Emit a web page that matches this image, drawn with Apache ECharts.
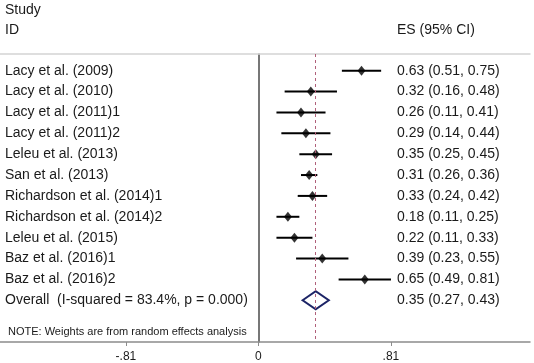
<!DOCTYPE html>
<html>
<head>
<meta charset="utf-8">
<script src="https://cdn.jsdelivr.net/npm/echarts@6/dist/echarts.min.js"></script>
<style>
  html, body { margin: 0; padding: 0; background: #fff; }
  #chart { width: 534px; height: 363px; }
</style>
</head>
<body>
<div id="chart"></div>
<script>
// forest plot data
const studies = [
    'Lacy et al. (2009)', 'Lacy et al. (2010)', 'Lacy et al. (2011)1', 'Lacy et al. (2011)2',
    'Leleu et al. (2013)', 'San et al. (2013)', 'Richardson et al. (2014)1',
    'Richardson et al. (2014)2', 'Leleu et al. (2015)', 'Baz et al. (2016)1', 'Baz et al. (2016)2'
];
const es = [0.63, 0.32, 0.26, 0.29, 0.35, 0.31, 0.33, 0.18, 0.22, 0.39, 0.65];
const lo = [0.51, 0.16, 0.11, 0.14, 0.25, 0.26, 0.24, 0.11, 0.11, 0.23, 0.49];
const hi = [0.75, 0.48, 0.41, 0.44, 0.45, 0.36, 0.42, 0.25, 0.33, 0.55, 0.81];
const overallLabel = 'Overall  (I-squared = 83.4%, p = 0.000)';
const overall = [0.35, 0.27, 0.43]; // es, lo, hi
const xTicks = [-0.81, 0, 0.81];
const xTickLabels = ['-.81', '0', '.81'];

const FONT = '"Liberation Sans", Arial, sans-serif';
const ES_COL_X = 397; // pixel x of the ES column text

const fmt = v => v.toFixed(2);
const rows = studies.map((s, i) => [lo[i], hi[i], es[i], i]);
const overallRow = studies.length;

const chart = echarts.init(document.getElementById('chart'));

const option = {
    animation: false,
    grid: { left: 0, right: 4, top: 54, bottom: 21, containLabel: false },
    graphic: [
        { type: 'text', left: 5, top: 3, style: { text: 'Study', font: '14px ' + FONT, fill: '#1a1a1a' } },
        { type: 'text', left: 5, top: 23, style: { text: 'ID', font: '14px ' + FONT, fill: '#1a1a1a' } },
        { type: 'text', left: ES_COL_X, top: 23, style: { text: 'ES (95% CI)', font: '14px ' + FONT, fill: '#1a1a1a' } },
        { type: 'text', left: 8, top: 326, style: { text: 'NOTE: Weights are from random effects analysis', font: '11px ' + FONT, fill: '#1a1a1a' } }
    ],
    xAxis: [{
        type: 'value',
        min: -1.58,
        max: 1.66,
        position: 'bottom',
        axisLine: { show: true, onZero: false, lineStyle: { color: '#8c8c8c', width: 1.5 } },
        axisTick: { show: true, customValues: xTicks, length: 4, lineStyle: { color: '#8c8c8c' } },
        axisLabel: {
            customValues: xTicks,
            margin: 9,
            color: '#1a1a1a',
            fontFamily: FONT,
            fontSize: 12,
            formatter: v => {
                const k = xTicks.findIndex(t => Math.abs(t - v) < 1e-6);
                return k >= 0 ? xTickLabels[k] : '';
            }
        },
        splitLine: { show: false }
    }, {
        type: 'value',
        min: -1.58,
        max: 1.66,
        position: 'top',
        axisLine: { show: true, onZero: false, lineStyle: { color: '#d4d4d4', width: 1.5 } },
        axisTick: { show: false },
        axisLabel: { show: false },
        splitLine: { show: false }
    }],
    yAxis: {
        type: 'value',
        inverse: true,
        min: -0.8,
        max: 13,
        axisLine: { show: true, onZero: true, lineStyle: { color: '#4a4a4a', width: 1.5 } },
        axisTick: { show: false },
        axisLabel: { show: false },
        splitLine: { show: false }
    },
    series: [
        // confidence intervals + row texts
        {
            type: 'custom',
            data: rows,
            encode: { x: [0, 1, 2], y: 3 },
            clip: false,
            renderItem: (params, api) => {
                const a = api.coord([api.value(0), api.value(3)]);
                const b = api.coord([api.value(1), api.value(3)]);
                const i = params.dataIndex;
                return {
                    type: 'group',
                    children: [
                        { type: 'line', shape: { x1: a[0], y1: a[1], x2: b[0], y2: b[1] }, style: { stroke: '#000', lineWidth: 2 } },
                        { type: 'text', x: params.coordSys.x + 5, y: a[1], style: { text: studies[i], font: '14px ' + FONT, fill: '#1a1a1a', verticalAlign: 'middle' } },
                        { type: 'text', x: ES_COL_X, y: a[1], style: { text: fmt(es[i]) + ' (' + fmt(lo[i]) + ', ' + fmt(hi[i]) + ')', font: '14px ' + FONT, fill: '#1a1a1a', verticalAlign: 'middle' } }
                    ]
                };
            },
            markLine: {
                silent: true,
                symbol: 'none',
                label: { show: false },
                lineStyle: { color: '#b0607a', type: [3, 3], width: 1 },
                data: [{ xAxis: overall[0] }]
            }
        },
        // point estimates
        {
            type: 'scatter',
            data: rows.map(r => [r[2], r[3]]),
            symbol: 'diamond',
            symbolSize: [8, 10],
            itemStyle: { color: '#000' }
        },
        // overall diamond
        {
            type: 'custom',
            data: [[overall[1], overall[2], overall[0], overallRow]],
            encode: { x: [0, 1, 2], y: 3 },
            clip: false,
            renderItem: (params, api) => {
                const y = api.value(3);
                const l = api.coord([api.value(0), y]);
                const r = api.coord([api.value(1), y]);
                const t = api.coord([api.value(2), y - 0.43]);
                const bt = api.coord([api.value(2), y + 0.43]);
                return {
                    type: 'group',
                    children: [
                        { type: 'polygon', shape: { points: [l, t, r, bt] }, style: { fill: 'none', stroke: '#1c2466', lineWidth: 2 } },
                        { type: 'text', x: params.coordSys.x + 5, y: l[1], style: { text: overallLabel, font: '14px ' + FONT, fill: '#1a1a1a', verticalAlign: 'middle' } },
                        { type: 'text', x: ES_COL_X, y: l[1], style: { text: fmt(overall[0]) + ' (' + fmt(overall[1]) + ', ' + fmt(overall[2]) + ')', font: '14px ' + FONT, fill: '#1a1a1a', verticalAlign: 'middle' } }
                    ]
                };
            }
        }
    ]
};

chart.setOption(option);
window.addEventListener('resize', () => chart.resize());
</script>
</body>
</html>
